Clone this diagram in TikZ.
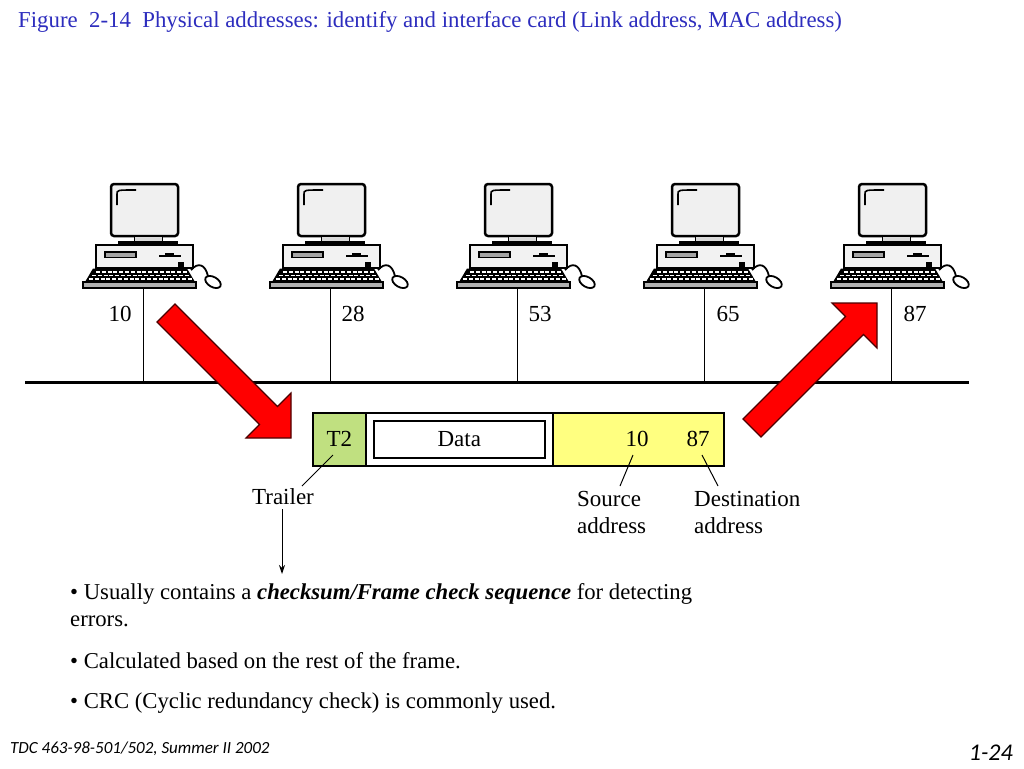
\documentclass[tikz,border=0pt]{standalone}
\usepackage{fontspec}
\setmainfont{Liberation Serif}
\newfontfamily\footfont{Carlito}
\usetikzlibrary{arrows.meta}
\definecolor{titleblue}{RGB}{45,45,190}
\definecolor{tgreen}{RGB}{192,224,128}
\definecolor{fyellow}{RGB}{255,255,128}
\definecolor{arrowred}{RGB}{255,0,0}
\tikzset{
  computer/.pic={
    \draw[line width=2.5, fill=black!6, rounded corners=3] (-32,184) rectangle (35,236);
    \draw[line width=1.6] (-26,205) -- (-26,194) .. controls (-26,190) .. (-7,190);
    \draw[line width=1, fill=black!15] (-9,236) rectangle (19,241.5);
    \fill[black] (-25,241) rectangle (35,245);
    \draw[line width=1.5, fill=black!5] (-47,245) rectangle (50,268);
    \draw[line width=1.2, fill=black!35] (-38,252) rectangle (-7,257.5);
    \draw[line width=1.5] (16,256) -- (38,256);
    \fill (22,252.5) rectangle (31,256);
    \fill (35,262) rectangle (41,267);
    \fill[black] (-50,268.5) -- (44,268.5) -- (52,282) -- (-58,282) -- cycle;
    \draw[white, line width=1.4, dash pattern=on 4 off 1.8] (-47,272) -- (45,272);
    \draw[white, line width=1.4, dash pattern=on 4 off 1.8] (-51,275.5) -- (47,275.5);
    \draw[white, line width=1.4, dash pattern=on 4 off 1.8] (-54,279) -- (50,279);
    \draw[line width=1.2, fill=black!30] (-60,282) rectangle (53,288);
    \draw[line width=1.8] (48,270) .. controls (55,262) and (62,264) .. (65,276);
    \draw[line width=1.8, fill=white, rotate around={-30:(70,282)}] (70,282) ellipse [x radius=8.5, y radius=5];
  },
  lbl/.style={font=\fontsize{23}{27}\selectfont, inner sep=0pt},
  lblb/.style={font=\fontsize{23}{27}\selectfont, inner sep=0pt, anchor=base west},
  body/.style={font=\fontsize{22.7}{27}\selectfont, inner sep=0pt, anchor=base west},
  cell/.style={draw, line width=1.6, minimum height=53, inner sep=0pt, anchor=north west},
  bigarrow/.style={fill=arrowred, draw=black!70!red, line width=1.2, line join=miter},
}
\begin{document}
\begin{tikzpicture}[x=1pt,y=-1pt]
\useasboundingbox (0,0) rectangle (1024,768);
\fill[white] (0,0) rectangle (1024,768);
% title
\node[anchor=base west, inner sep=0pt, text=titleblue, font=\fontsize{22.8}{26}\selectfont] (title) at (18,27.5)
  {Figure\ \ 2-14\ \ Physical addresses: identify and interface card (Link address, MAC address)};
% computers
\foreach \i/\x in {1/143,2/330,3/517,4/704,5/891}{
  \pic at (\x,0) {computer};
  \coordinate (c\i) at (\x,289);
  \coordinate (b\i) at (\x,382);
  \draw[line width=1] (c\i) -- (b\i);
}
% addresses
\node[lbl] (a1) at (120,314) {10};
\node[lbl] (a2) at (353,314) {28};
\node[lbl] (a3) at (540,314) {53};
\node[lbl] (a4) at (728,314) {65};
\node[lbl] (a5) at (915,314) {87};
% bus
\coordinate (busL) at (25,382);
\coordinate (busR) at (969,382);
\draw[line width=3] (busL) -- (busR);
% frame
\node[cell, fill=tgreen, minimum width=53] (t2) at (312,412) {};
\node[cell, fill=white, minimum width=187] (data) at (365,412) {};
\node[cell, fill=fyellow, minimum width=171] (addr) at (552,412) {};
\node[draw, line width=1.6, minimum width=171, minimum height=37, inner sep=0pt] (datain) at (data.center) {};
\node[lbl] (t2t) at (t2.center) {T2};
\node[lbl] (datat) at (datain.center) {Data};
\node[lbl] (src) at (637,439) {10};
\node[lbl] (dst) at (698,439) {87};
% labels below
\node[lbl] (trailer) at (283,497) {Trailer};
\node[lblb] (srcl1) at (577,506) {Source};
\node[lblb] (srcl2) at (577,533) {address};
\node[lblb] (dstl1) at (694,506) {Destination};
\node[lblb] (dstl2) at (694,533) {address};
\coordinate (t2p) at (333,455);
\coordinate (trp) at (302,486);
\draw[line width=1] (t2p) -- (trp);
\coordinate (srp1) at (633,455);
\coordinate (srp2) at (620,486);
\draw[line width=1] (srp1) -- (srp2);
\coordinate (dsp1) at (702,455);
\coordinate (dsp2) at (718,486);
\draw[line width=1] (dsp1) -- (dsp2);
\coordinate (trdown) at (282,574);
\draw[line width=1, -{Stealth[length=9, width=6]}] (trailer.south -| trdown) ++(0,4) -- (trdown);
% big arrows
\draw[bigarrow] (175,304) -- (277.5,406.5) -- (291,393) -- (291,438) -- (246,438) -- (259.5,424.5) -- (157,322) -- cycle;
\draw[bigarrow] (761,437) -- (863.5,334.5) -- (877,348) -- (877,303) -- (832,303) -- (845.5,316.5) -- (743,419) -- cycle;
% bullets
\node[body] (l1) at (70,599) {• Usually contains a \textbf{\textit{checksum/Frame check sequence}} for detecting};
\node[body] (l2) at (70,626) {errors.};
\node[body] (l3) at (70,668) {• Calculated based on the rest of the frame.};
\node[body] (l4) at (70,708) {• CRC (Cyclic redundancy check) is commonly used.};
% footer
\node[anchor=base west, inner sep=0pt, font=\footfont\itshape\fontsize{17}{20}\selectfont] (foot) at (10,753) {TDC 463-98-501/502, Summer II 2002};
\node[anchor=base east, inner sep=0pt, font=\footfont\itshape\fontsize{24}{26}\selectfont] (page) at (1013,760) {1-24};
\end{tikzpicture}
\end{document}
